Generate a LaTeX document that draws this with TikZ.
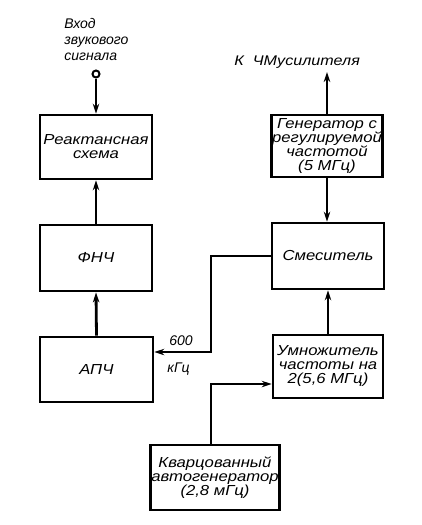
\documentclass[tikz,border=0pt]{standalone}
\usepackage{fontspec}
\setmainfont{Liberation Sans}
\newfontfamily\widefont[FakeStretch=1.15]{Liberation Sans}
\usetikzlibrary{arrows.meta}
\begin{document}
\begin{tikzpicture}[x=1pt,y=-1pt,
  line width=2.8pt,
  box/.style={draw, line width=2.8pt, rectangle, inner sep=1pt, align=center,
    font=\widefont\fontsize{14.5}{14}\selectfont\itshape},
  lbl/.style={inner sep=0pt, align=left, font=\fontsize{14}{16}\selectfont\itshape},
  arr/.style={-{Stealth[length=10pt,width=6.5pt]}}]
\useasboundingbox (0,0) rectangle (422,525);
\node[box, minimum width=112pt, minimum height=64pt] (reakt) at (96,147) {Реактансная\\схема};
\node[box, minimum width=112pt, minimum height=66pt] (fnch) at (96,258) {ФНЧ};
\node[box, minimum width=113pt, minimum height=65pt] (apch) at (96.5,369.5) {АПЧ};
\node[box, minimum width=108pt, minimum height=62pt] (gen) at (327,146) {Генератор с\\регулируемой\\частотой\\(5 МГц)};
\node[box, minimum width=112pt, minimum height=66pt] (mix) at (328,256) {Смеситель};
\node[box, minimum width=110pt, minimum height=63pt] (mult) at (328,366.5) {Умножитель\\частоты на\\2(5,6 МГц)};
\node[box, minimum width=120pt, minimum height=65pt] (kv) at (215,477.5) {Кварцованный\\автогенератор\\(2,8 мГц)};
% input
\node[draw, circle, line width=2pt, minimum size=7pt, inner sep=0pt] (inp) at (96,74) {};
\node[lbl, anchor=north west] (inlbl) at (63,17) {Вход\\звукового\\сигнала};
\draw[arr] (inp) -- (reakt.north);
\draw[arr] (fnch.north) -- (reakt.south);
\draw[arr] (apch.north) -- (fnch.south);
% output
\coordinate (out) at (327,72);
\node[lbl, anchor=base west, font=\widefont\fontsize{14}{16}\selectfont\itshape] (outlbl) at (233,65) {К\ \ ЧМусилителя};
\draw[arr] (gen.north) -- (out);
\draw[arr] (gen.south) -- (gen.south |- mix.north);
\draw[arr] (mult.north) -- (mix.south);
% mixer to APCh
\coordinate (c1) at (211,352);
\draw[arr] (mix.west) -| (c1) -- (apch.east |- c1);
\node[lbl, anchor=base west] (l600) at (168,345) {600};
\node[lbl, anchor=base west] (lkhz) at (166,372) {кГц};
% crystal to multiplier
\coordinate (c2) at (211,384);
\draw[arr] (kv.north -| c2) -- (c2) -- (mult.west |- c2);
\end{tikzpicture}
\end{document}
